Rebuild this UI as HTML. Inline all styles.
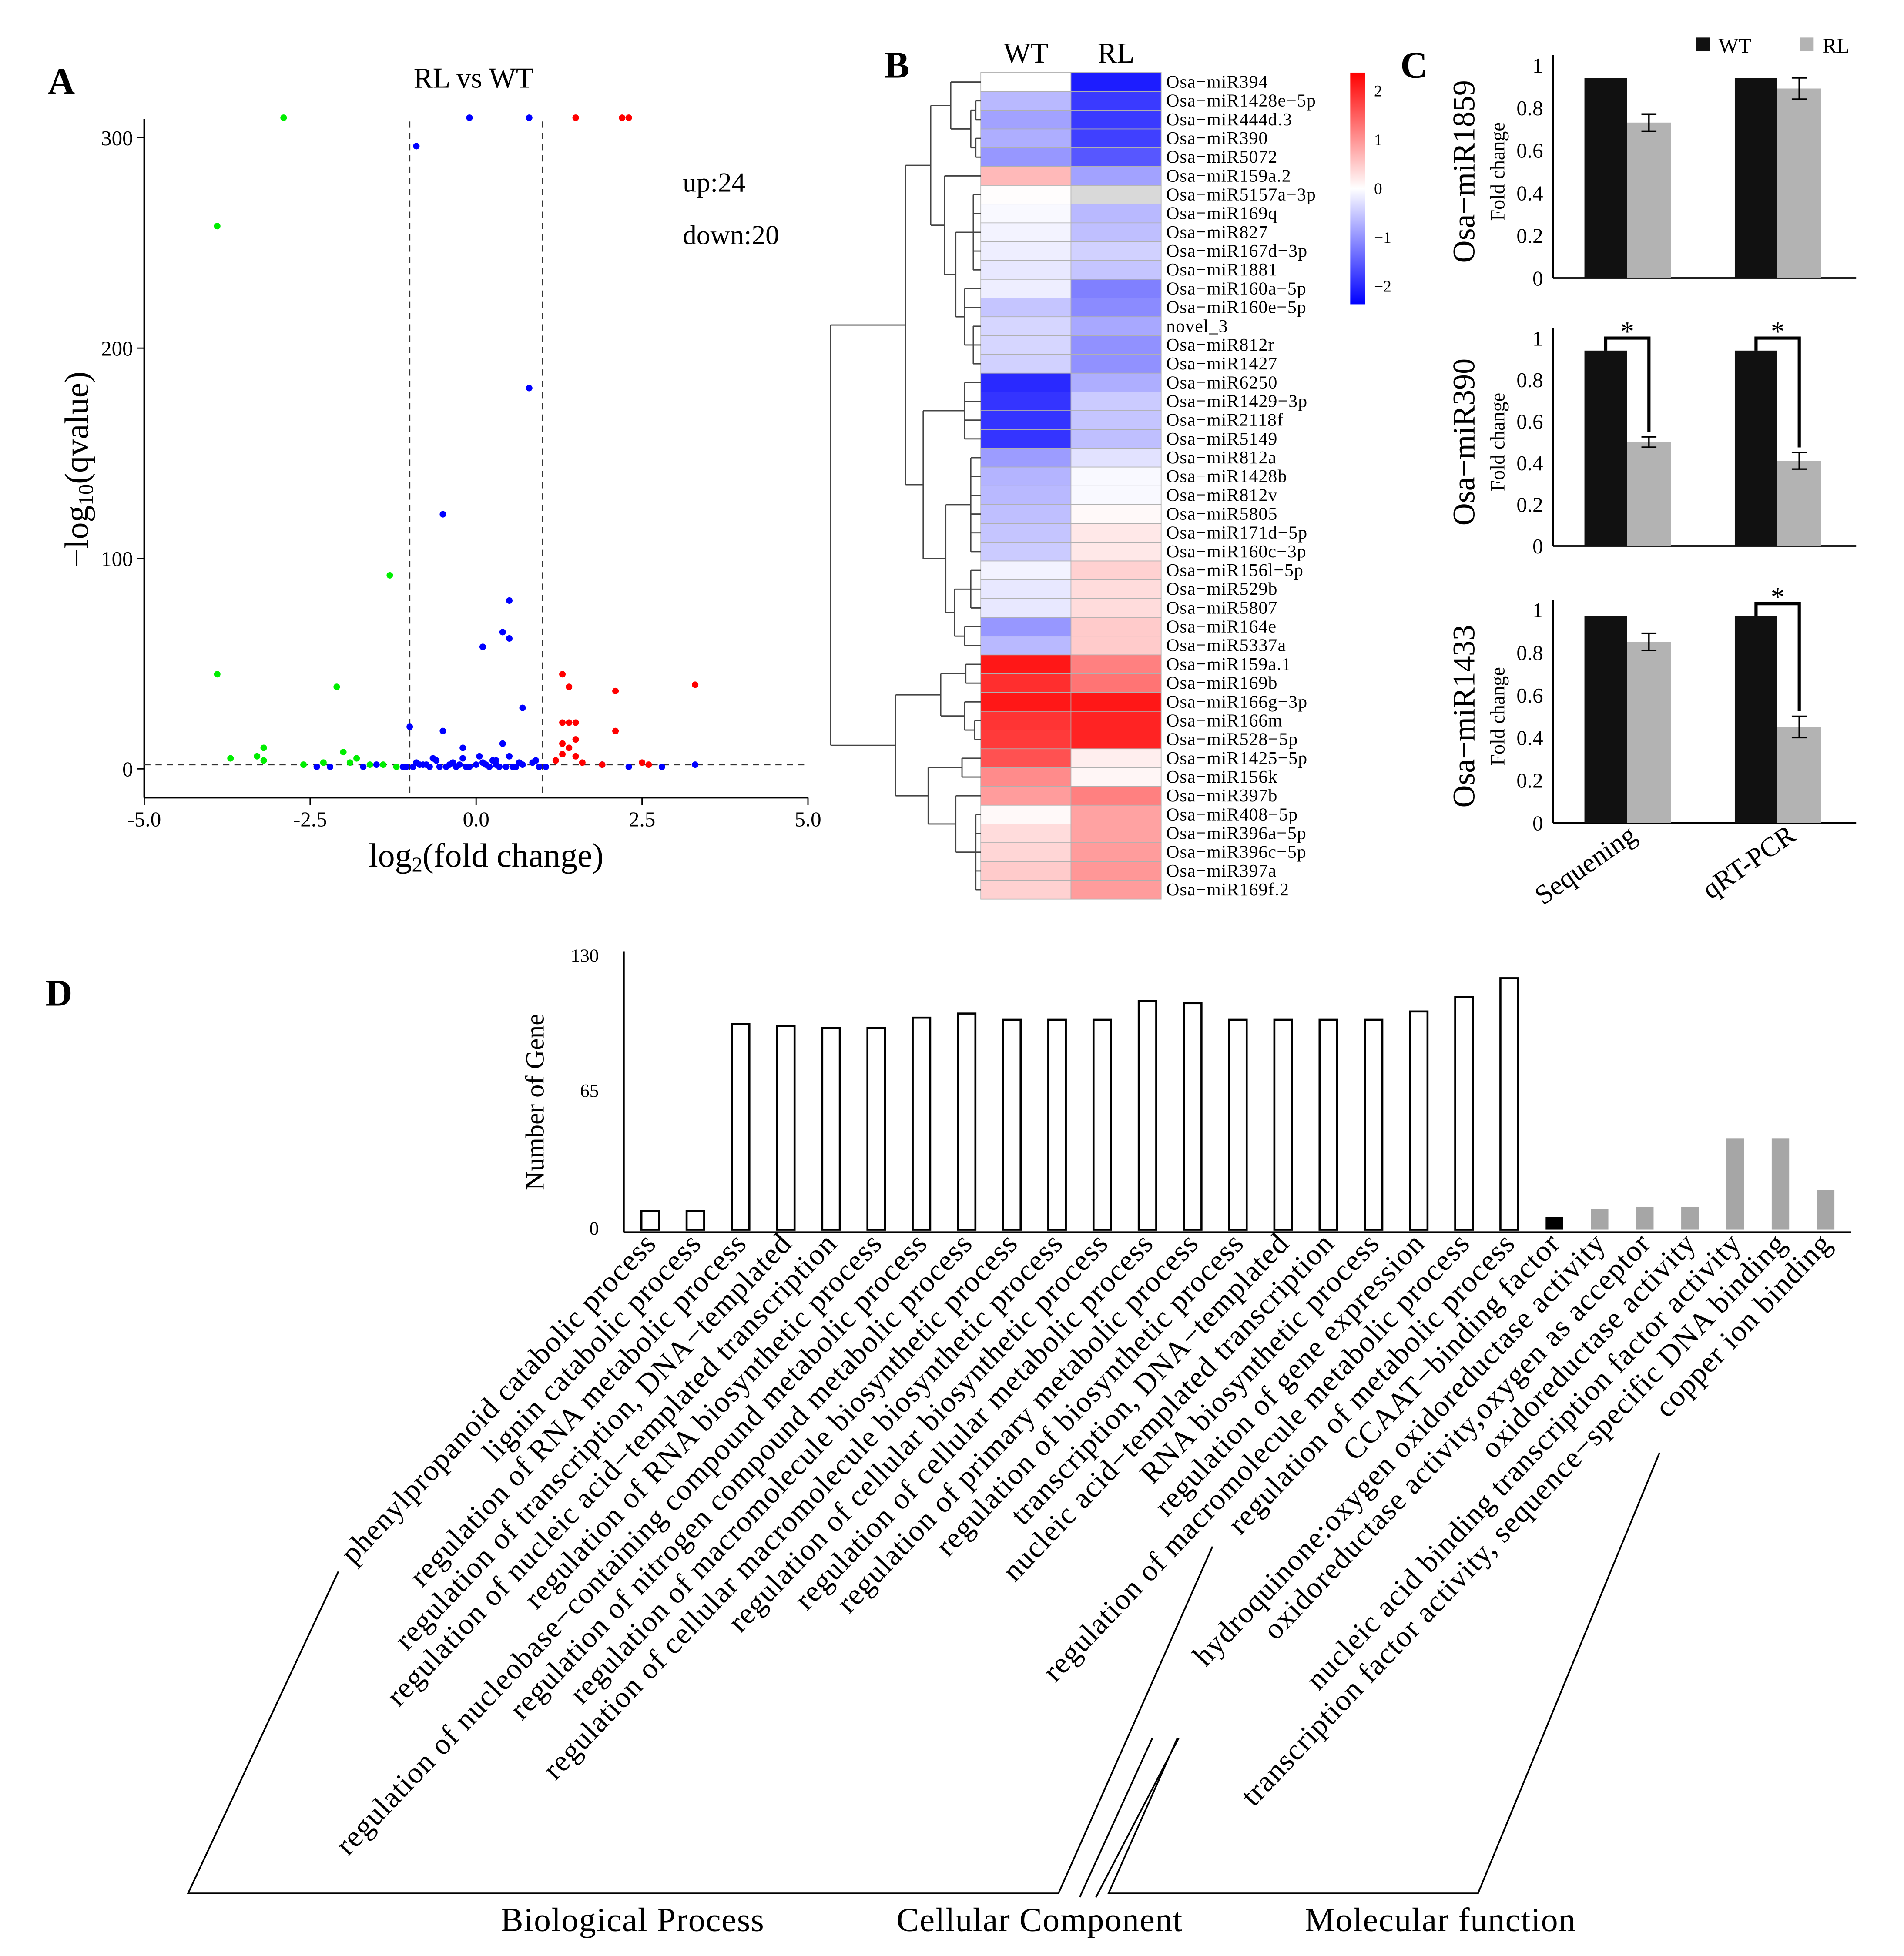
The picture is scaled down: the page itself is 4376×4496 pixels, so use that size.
<!DOCTYPE html>
<html><head><meta charset="utf-8"><style>
html,body{margin:0;padding:0;background:#fff}
svg{display:block}
text{font-family:"Liberation Serif",serif;fill:#000}
</style></head><body>
<svg id="fig" xmlns="http://www.w3.org/2000/svg" width="4376" height="4496" viewBox="0 0 1520 1562">
<rect width="1520" height="1562" fill="#fff"/>
<g id="A"></g>
<g id="B"></g>
<g id="C"></g>
<g id="D"></g>
</svg>
<script>
// ---------- Panel A data ----------
const greenX=[-2.9,-3.9,-3.9,-1.3,-2.1,-3.2,-3.3,-3.7,-2.0,-1.8,-2.3,-1.6,-1.4,-2.6,-3.2,-1.9,-1.2];
const greenY=[310,258,45,92,39,10,6,5,8,5,3,2,2,2,4,3,1];
const redX=[1.5,2.2,2.3,1.3,1.4,1.3,1.5,1.4,2.1,3.3,2.1,1.5,1.3,1.4,1.6,1.3,1.5,2.5,2.6,1.2,1.9];
const redY=[310,310,310,45,39,22,22,22,37,40,18,14,12,10,3,7,6,3,2,4,2];
const blueX=[-0.1,0.8,-0.9,0.8,-0.5,0.5,0.4,0.5,0.1,0.7,-1.0,-0.5,0.4,-0.2,-2.4,-2.2,-1.7,-1.5,-1.1,-0.9,-0.8,-0.7,-0.6,-0.4,-0.3,-0.2,0,0.1,0.2,0.3,0.5,0.6,0.7,0.9,-0.95,-0.75,-0.45,-0.15,0.15,0.35,0.55,0.85,1.9,2.3,2.8,3.3,-0.65,0.25,-0.35,0.05,-0.55,-0.25,0.45,0.65,-1.05,1.05,-0.85,0.95,0.3,-0.1];
const blueY=[310,310,296,181,121,80,65,62,58,29,20,18,12,10,1,1,1,2,1,3,2,1,4,2,1,5,2,3,1,2,6,1,2,4,1,2,1,1,2,1,1,3,2,1,1,2,5,4,3,6,1,2,1,3,1,1,2,1,4,1];
const xTicksA=[-5,-2.5,0,2.5,5];
const yTicksA=[0,100,200,300];
// ---------- Panel B data ----------
const mirNames=["Osa−miR394","Osa−miR1428e−5p","Osa−miR444d.3","Osa−miR390","Osa−miR5072","Osa−miR159a.2","Osa−miR5157a−3p","Osa−miR169q","Osa−miR827","Osa−miR167d−3p","Osa−miR1881","Osa−miR160a−5p","Osa−miR160e−5p","novel_3","Osa−miR812r","Osa−miR1427","Osa−miR6250","Osa−miR1429−3p","Osa−miR2118f","Osa−miR5149","Osa−miR812a","Osa−miR1428b","Osa−miR812v","Osa−miR5805","Osa−miR171d−5p","Osa−miR160c−3p","Osa−miR156l−5p","Osa−miR529b","Osa−miR5807","Osa−miR164e","Osa−miR5337a","Osa−miR159a.1","Osa−miR169b","Osa−miR166g−3p","Osa−miR166m","Osa−miR528−5p","Osa−miR1425−5p","Osa−miR156k","Osa−miR397b","Osa−miR408−5p","Osa−miR396a−5p","Osa−miR396c−5p","Osa−miR397a","Osa−miR169f.2"];
const wtVals=[0,-0.6,-0.8,-0.7,-0.9,0.6,0.02,-0.05,-0.1,-0.15,-0.2,-0.15,-0.5,-0.35,-0.35,-0.4,-1.85,-1.75,-1.75,-1.75,-0.85,-0.65,-0.6,-0.55,-0.5,-0.45,-0.1,-0.2,-0.2,-0.9,-0.6,2,1.8,2,1.75,1.7,1.5,1.0,0.85,0.05,0.3,0.35,0.45,0.4];
const rlVals=[-1.95,-1.7,-1.7,-1.65,-1.45,-0.8,null,-0.6,-0.55,-0.4,-0.5,-1.1,-1.0,-0.75,-0.95,-0.95,-0.7,-0.45,-0.5,-0.55,-0.25,-0.05,-0.05,0.05,0.2,0.2,0.4,0.3,0.3,0.45,0.45,1.1,1.2,2,1.9,1.9,0.15,0.08,1.1,0.8,0.8,0.85,0.9,0.85];
const cbTicks=[2,1,0,-1,-2];
// ---------- Panel C data ----------
const cTitles=["Osa−miR1859","Osa−miR390","Osa−miR1433"];
const cWT=[[0.94,0.94],[0.94,0.94],[0.97,0.97]];
const cRL=[[0.73,0.89],[0.5,0.41],[0.85,0.45]];
const cErr=[[0.04,0.05],[0.025,0.04],[0.04,0.05]];
const cSig=[[false,false],[true,true],[false,true]];
const cYTicks=[0,0.2,0.4,0.6,0.8,1];
const cGroups=["Sequening","qRT-PCR"];
// ---------- Panel D data ----------
const goTerms=["phenylpropanoid catabolic process","lignin catabolic process","regulation of RNA metabolic process","regulation of transcription, DNA−templated","regulation of nucleic acid−templated transcription","regulation of RNA biosynthetic process","regulation of nucleobase−containing compound metabolic process","regulation of nitrogen compound metabolic process","regulation of macromolecule biosynthetic process","regulation of cellular macromolecule biosynthetic process","regulation of cellular biosynthetic process","regulation of cellular metabolic process","regulation of primary metabolic process","regulation of biosynthetic process","transcription, DNA−templated","nucleic acid−templated transcription","RNA biosynthetic process","regulation of gene expression","regulation of macromolecule metabolic process","regulation of metabolic process","CCAAT−binding factor","hydroquinone:oxygen oxidoreductase activity","oxidoreductase activity,oxygen as acceptor","oxidoreductase activity","nucleic acid binding transcription factor activity","transcription factor activity, sequence−specific DNA binding","copper ion binding"];
const goCounts=[9,9,99,98,97,97,102,104,101,101,101,110,109,101,101,101,101,105,112,121,6,10,11,11,44,44,19];
const goCat=["BP","BP","BP","BP","BP","BP","BP","BP","BP","BP","BP","BP","BP","BP","BP","BP","BP","BP","BP","BP","CC","MF","MF","MF","MF","MF","MF"];
const dTicks=[0,65,130];

const NS="http://www.w3.org/2000/svg";
function mk(parent,tag,attrs,txt){const e=document.createElementNS(NS,tag);for(const k in attrs)e.setAttribute(k,attrs[k]);if(txt!==undefined)e.textContent=txt;parent.appendChild(e);return e;}
const svg=document.getElementById('fig');
[["A",38,75],["B",706,62],["C",1118,62],["D",36,803]].forEach(p=>{const t=mk(svg,'text',{x:p[1],y:p[2],'font-size':30,'font-weight':'bold'},p[0]);

});

// ===== Panel A =====
(function(){
const g=document.getElementById('A');
const xs=v=>115+(v+5)*53, ys=v=>614-v*1.68;
let e=mk(g,'line',{x1:115,y1:95,x2:115,y2:637,stroke:'#000','stroke-width':1.3});

e=mk(g,'line',{x1:115,y1:637,x2:645,y2:637,stroke:'#000','stroke-width':1.3});

xTicksA.forEach(v=>{mk(g,'line',{x1:xs(v),y1:637,x2:xs(v),y2:643,stroke:'#000'});
const t=mk(g,'text',{x:xs(v),y:660,'font-size':17,'text-anchor':'middle'},v.toFixed(1));
});
yTicksA.forEach(v=>{mk(g,'line',{x1:109,y1:ys(v),x2:115,y2:ys(v),stroke:'#000'});
const t=mk(g,'text',{x:106,y:ys(v)+6,'font-size':17,'text-anchor':'end'},v);
});
e=mk(g,'line',{x1:xs(-1),y1:97,x2:xs(-1),y2:637,stroke:'#333','stroke-dasharray':'5,4'});

e=mk(g,'line',{x1:xs(1),y1:97,x2:xs(1),y2:637,stroke:'#333','stroke-dasharray':'5,4'});

e=mk(g,'line',{x1:115,y1:ys(2),x2:645,y2:ys(2),stroke:'#333','stroke-dasharray':'5,4'});

const draw=(X,Y,c,n)=>X.forEach((x,i)=>{const yy=Math.max(ys(Y[i]),94);const p=mk(g,'circle',{cx:xs(x),cy:yy,r:2.6,fill:c});
});
draw(blueX,blueY,'#0000ff','point-ns');draw(greenX,greenY,'#00ee00','point-down');draw(redX,redY,'#ff0000','point-up');
let t=mk(g,'text',{x:378,y:70,'font-size':23,'text-anchor':'middle'},'RL vs WT');
t=mk(g,'text',{x:545,y:153,'font-size':22},'up:24');
t=mk(g,'text',{x:545,y:195,'font-size':22},'down:20');
t=mk(g,'text',{x:388,y:692,'font-size':27,'text-anchor':'middle'});t.innerHTML='log<tspan font-size="17" dy="4">2</tspan><tspan dy="-4">(fold change)</tspan>';

t=mk(g,'text',{x:0,y:0,'font-size':27,'text-anchor':'middle',transform:'translate(70,375) rotate(-90)'});t.innerHTML='−log<tspan font-size="17" dy="4">10</tspan><tspan dy="-4">(qvalue)</tspan>';

})();

// ===== Panel B =====
(function(){
const g=document.getElementById('B');
const x0=783,cw=72,y0=58,rh=15;
function col(v){if(v===null)return '#d9d9d9';const a=Math.min(Math.abs(v)/2.2,1);
if(v>=0){const k=Math.round(255*(1-a));return `rgb(255,${k},${k})`;}const k=Math.round(255*(1-a));return `rgb(${k},${k},255)`;}
mirNames.forEach((n,i)=>{
[wtVals[i],rlVals[i]].forEach((v,j)=>{const r=mk(g,'rect',{x:x0+j*cw,y:y0+i*rh,width:cw,height:rh,fill:col(v),stroke:'#b0b0b0','stroke-width':0.6});
});
const t=mk(g,'text',{x:931,y:y0+i*rh+12,'font-size':14.5,'letter-spacing':0.4},n);
});
let t=mk(g,'text',{x:x0+cw/2,y:50,'font-size':23,'text-anchor':'middle'},'WT');
t=mk(g,'text',{x:x0+cw*1.5,y:50,'font-size':23,'text-anchor':'middle'},'RL');
const defs=mk(svg,'defs',{});const lg=mk(defs,'linearGradient',{id:'cb',x1:0,y1:0,x2:0,y2:1});
mk(lg,'stop',{offset:'0','stop-color':'#ff0000'});mk(lg,'stop',{offset:'0.5','stop-color':'#ffffff'});mk(lg,'stop',{offset:'1','stop-color':'#0000ff'});
let r=mk(g,'rect',{x:1078,y:58,width:12,height:185,fill:'url(#cb)'});
const cy=v=>150-v*39;
cbTicks.forEach(v=>{const tt=mk(g,'text',{x:1097,y:cy(v)+5,'font-size':13},v<0?'−'+(-v):String(v));});
const tree={x:663,c:[{x:723,c:[{x:743,c:[{x:759,c:[0,{x:775,c:[{x:779,c:[1,2]},{x:779,c:[3,4]}]}]},{x:754,c:[5,{x:763,c:[{x:777,c:[6,7,8,9,10]},{x:770,c:[11,12,{x:777,c:[13,14,15]}]}]}]}]},{x:737,c:[{x:770,c:[16,17,18,19]},{x:755,c:[{x:775,c:[20,21,22,23,24,25]},{x:762,c:[{x:775,c:[26,27,28]},{x:770,c:[29,30]}]}]}]}]},{x:715,c:[{x:751,c:[{x:771,c:[31,32]},{x:770,c:[33,{x:778,c:[34,35]}]}]},{x:741,c:[{x:768,c:[36,37]},{x:763,c:[38,{x:779,c:[39,40,41,42,43]}]}]}]}]};
function dn(n){if(typeof n==='number')return {y:y0+n*rh+rh/2,x:x0};
const ch=n.c.map(dn);const ys=ch.map(c=>c.y);
const l=mk(g,'line',{x1:n.x,y1:Math.min(...ys),x2:n.x,y2:Math.max(...ys),stroke:'#444','stroke-width':1});

ch.forEach(c=>{const h=mk(g,'line',{x1:n.x,y1:c.y,x2:c.x,y2:c.y,stroke:'#444','stroke-width':1});});
return {x:n.x,y:(Math.min(...ys)+Math.max(...ys))/2};}
dn(tree);
})();

// ===== Panel C =====
(function(){
const g=document.getElementById('C');
const tops=[52,270,487],bots=[222,436,657];
const ax=1240;
cTitles.forEach((ti,k)=>{
const top=tops[k],bot=bots[k];const ys=v=>bot-(bot-top)*v;
let e=mk(g,'line',{x1:ax,y1:top-8,x2:ax,y2:bot,stroke:'#000','stroke-width':1.3});
e=mk(g,'line',{x1:ax,y1:bot,x2:1482,y2:bot,stroke:'#000','stroke-width':1.3});
cYTicks.forEach(v=>{const t=mk(g,'text',{x:ax-8,y:ys(v)+6,'font-size':17,'text-anchor':'end'},String(v));
});
[0,1].forEach(gi=>{const bx=gi===0?1265:1385;
let r=mk(g,'rect',{x:bx,y:ys(cWT[k][gi]),width:34,height:bot-ys(cWT[k][gi]),fill:'#111'});
r=mk(g,'rect',{x:bx+34,y:ys(cRL[k][gi]),width:35,height:bot-ys(cRL[k][gi]),fill:'#b3b3b3'});
const ex=bx+51.5,e1=ys(cRL[k][gi]+cErr[k][gi]),e2=ys(cRL[k][gi]-cErr[k][gi]);
const eb=mk(g,'path',{d:`M${ex-6},${e1}H${ex+6}M${ex},${e1}V${e2}M${ex-6},${e2}H${ex+6}`,stroke:'#000',fill:'none','stroke-width':1.2});

if(cSig[k][gi]){const yt=ys(cWT[k][gi])-10;const s=mk(g,'path',{d:`M${bx+17},${ys(cWT[k][gi])}V${yt}H${ex}V${e1-4}`,stroke:'#000',fill:'none','stroke-width':2.5});

const st=mk(g,'text',{x:(bx+17+ex)/2,y:yt+2,'font-size':22,'text-anchor':'middle'},'*');}
});
let t=mk(g,'text',{x:0,y:0,'font-size':25,'text-anchor':'middle',transform:`translate(1177,${(top+bot)/2}) rotate(-90)`},ti);
t=mk(g,'text',{x:0,y:0,'font-size':16,'text-anchor':'middle',transform:`translate(1201,${(top+bot)/2}) rotate(-90)`},'Fold change');
});
cGroups.forEach((n,i)=>{const t=mk(g,'text',{x:0,y:0,'font-size':22,'text-anchor':'end',transform:`translate(${i===0?1308:1435},${670}) rotate(-35)`},n);});
let r=mk(g,'rect',{x:1354,y:30,width:11,height:11,fill:'#111'});
let t=mk(g,'text',{x:1372,y:42,'font-size':17},'WT');
r=mk(g,'rect',{x:1437,y:30,width:11,height:11,fill:'#b3b3b3'});
t=mk(g,'text',{x:1455,y:42,'font-size':17},'RL');
})();

// ===== Panel D =====
(function(){
const g=document.getElementById('D');
const ys=v=>982-v*1.66;const bx=i=>519+i*36.1;
let e=mk(g,'line',{x1:498,y1:760,x2:498,y2:984,stroke:'#000','stroke-width':1.3});
e=mk(g,'line',{x1:498,y1:984,x2:1478,y2:984,stroke:'#000','stroke-width':1.3});
dTicks.forEach(v=>{const t=mk(g,'text',{x:478,y:ys(v)+(v===0?4:2),'font-size':15,'text-anchor':'end'},v);});
let t=mk(g,'text',{x:0,y:0,'font-size':21,'text-anchor':'middle',transform:'translate(434,880) rotate(-90)'},'Number of Gene');
goCounts.forEach((v,i)=>{const c=goCat[i];const r=mk(g,'rect',{x:bx(i)-7,y:ys(v),width:14,height:982-ys(v),fill:c==='BP'?'#fff':c==='CC'?'#000':'#a6a6a6',stroke:c==='BP'?'#000':'none','stroke-width':1.6});

const l=mk(g,'text',{x:0,y:0,'font-size':24,'letter-spacing':0.6,'text-anchor':'end',transform:`translate(${bx(i)+6},${994}) rotate(-46.5)`},goTerms[i]);
});
const br=[["M270,1255L150,1512H845L968,1235",'bp-bracket'],["M862,1515L920,1388M875,1515L941,1388",'cc-bracket'],["M940,1388L885,1512H1180L1325,1160",'mf-bracket']];
br.forEach(b=>{const p=mk(g,'path',{d:b[0],stroke:'#000',fill:'none','stroke-width':1.3});});
[["Biological Process",505,'bp-label'],["Cellular Component",830,'cc-label'],["Molecular function",1150,'mf-label']].forEach(a=>{const tt=mk(g,'text',{x:a[1],y:1542,'font-size':27,'letter-spacing':0.5,'text-anchor':'middle'},a[0]);});
})();
</script>
</body></html>
